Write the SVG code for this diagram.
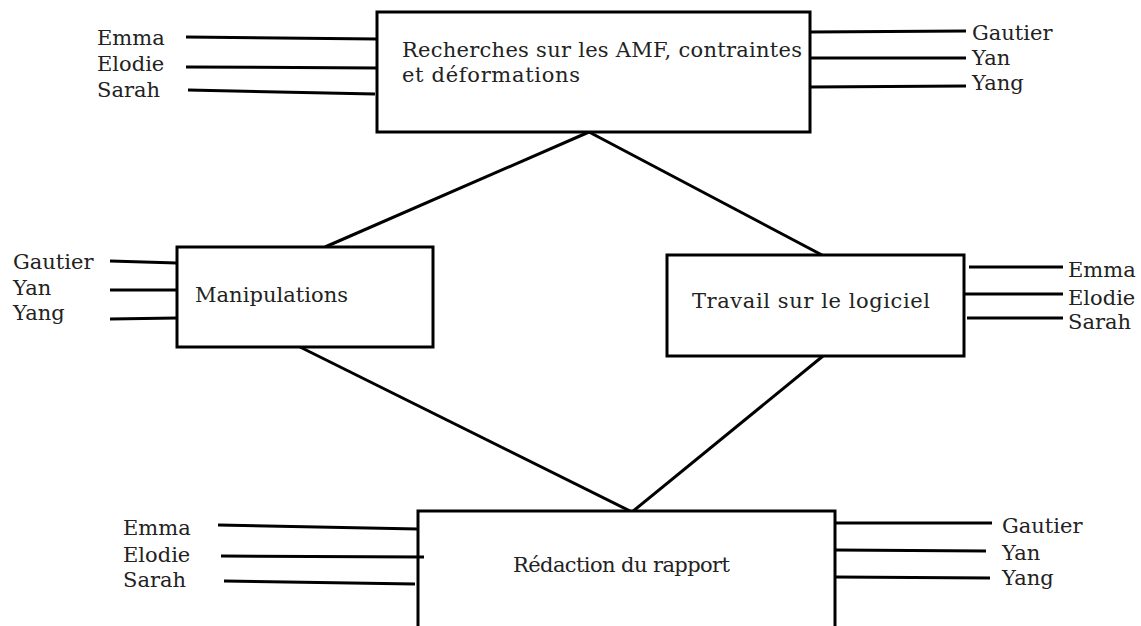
<svg xmlns="http://www.w3.org/2000/svg" width="1141" height="626" viewBox="0 0 1141 626">
<style>
  .box { fill: #ffffff; stroke: #000000; stroke-width: 3; }
  .ln { stroke: #000000; stroke-width: 3; fill: none; }
  .lbl { font-family: "DejaVu Serif", "Liberation Serif", serif; font-size: 21px; fill: #222222; }
  .main { font-family: "DejaVu Serif", "Liberation Serif", serif; font-size: 21px; fill: #222222; }
</style>
<rect x="0" y="0" width="1141" height="626" fill="#ffffff"/>
<g id="connectors">
  <line class="ln" x1="589" y1="132" x2="325" y2="247"/>
  <line class="ln" x1="589" y1="132" x2="822" y2="255"/>
  <line class="ln" x1="300" y1="347" x2="632" y2="512"/>
  <line class="ln" x1="823" y1="356" x2="632" y2="512"/>
</g>
<g id="node-recherches">
  <rect class="box" x="377" y="12" width="433" height="120"/>
  <text class="main" x="402" y="57" textLength="400" lengthAdjust="spacing">Recherches sur les AMF, contraintes</text>
  <text class="main" x="402" y="82" textLength="178" lengthAdjust="spacing">et déformations</text>
  <line class="ln" x1="186" y1="37" x2="377" y2="39"/>
  <line class="ln" x1="186" y1="67" x2="377" y2="68"/>
  <line class="ln" x1="188" y1="90" x2="375" y2="94"/>
  <text class="lbl" x="97" y="45">Emma</text>
  <text class="lbl" x="97" y="71">Elodie</text>
  <text class="lbl" x="97" y="97">Sarah</text>
  <line class="ln" x1="810" y1="32" x2="966" y2="31"/>
  <line class="ln" x1="810" y1="58" x2="966" y2="58"/>
  <line class="ln" x1="810" y1="87" x2="966" y2="86"/>
  <text class="lbl" x="972" y="40">Gautier</text>
  <text class="lbl" x="972" y="65">Yan</text>
  <text class="lbl" x="972" y="90">Yang</text>
</g>
<g id="node-manipulations">
  <rect class="box" x="177" y="247" width="256" height="100"/>
  <text class="main" x="195" y="302" textLength="153" lengthAdjust="spacing">Manipulations</text>
  <line class="ln" x1="110" y1="261" x2="177" y2="263"/>
  <line class="ln" x1="110" y1="290" x2="177" y2="290"/>
  <line class="ln" x1="110" y1="319" x2="177" y2="318"/>
  <text class="lbl" x="13" y="269">Gautier</text>
  <text class="lbl" x="13" y="295">Yan</text>
  <text class="lbl" x="13" y="320">Yang</text>
</g>
<g id="node-travail">
  <rect class="box" x="667" y="255" width="297" height="101"/>
  <text class="main" x="692" y="308" textLength="238" lengthAdjust="spacing">Travail sur le logiciel</text>
  <line class="ln" x1="969" y1="267" x2="1063" y2="267"/>
  <line class="ln" x1="964" y1="294" x2="1063" y2="294"/>
  <line class="ln" x1="967" y1="318" x2="1063" y2="318"/>
  <text class="lbl" x="1068" y="277">Emma</text>
  <text class="lbl" x="1068" y="305">Elodie</text>
  <text class="lbl" x="1068" y="329">Sarah</text>
</g>
<g id="node-redaction">
  <rect class="box" x="418" y="511" width="417" height="130"/>
  <text class="main" x="513" y="572" textLength="217" lengthAdjust="spacing">Rédaction du rapport</text>
  <line class="ln" x1="218" y1="525" x2="418" y2="529"/>
  <line class="ln" x1="221" y1="556" x2="424" y2="557"/>
  <line class="ln" x1="224" y1="581" x2="415" y2="584"/>
  <text class="lbl" x="123" y="535">Emma</text>
  <text class="lbl" x="123" y="562">Elodie</text>
  <text class="lbl" x="123" y="587">Sarah</text>
  <line class="ln" x1="835" y1="523" x2="992" y2="523"/>
  <line class="ln" x1="835" y1="550" x2="986" y2="551"/>
  <line class="ln" x1="835" y1="577" x2="990" y2="578"/>
  <text class="lbl" x="1002" y="533">Gautier</text>
  <text class="lbl" x="1002" y="560">Yan</text>
  <text class="lbl" x="1002" y="585">Yang</text>
</g>
</svg>
